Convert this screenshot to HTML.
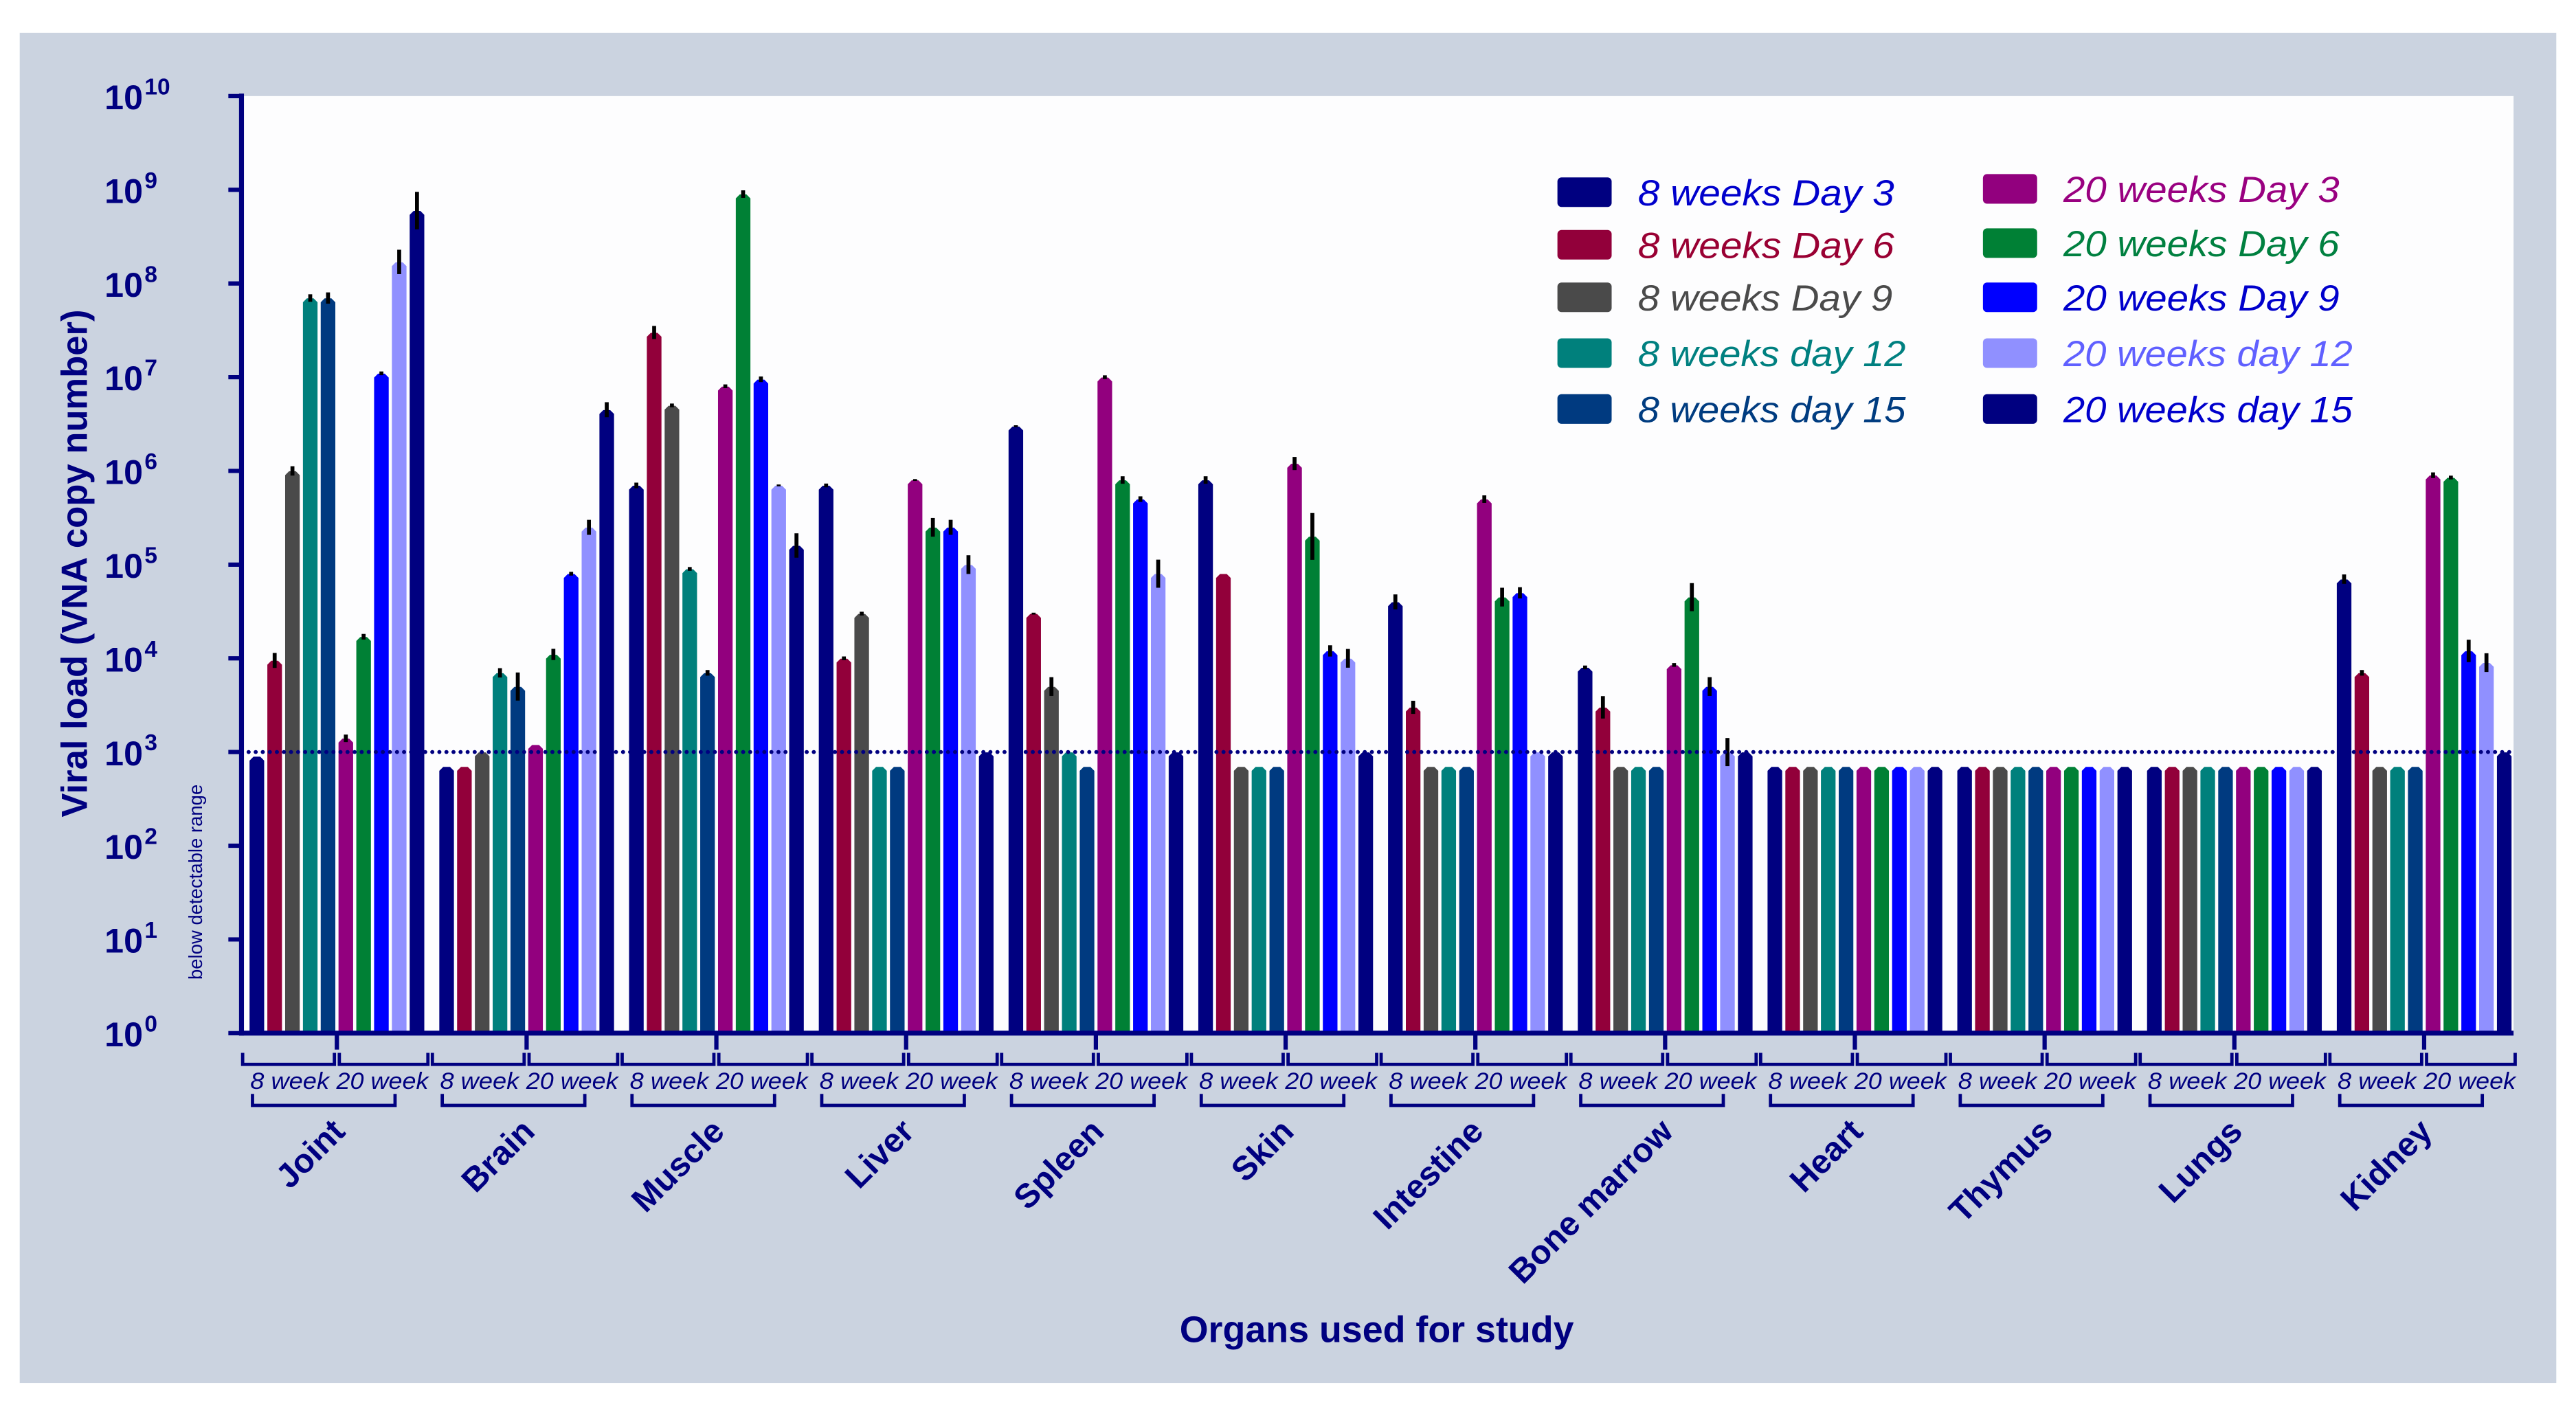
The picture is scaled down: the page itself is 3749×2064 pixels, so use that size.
<!DOCTYPE html>
<html><head><meta charset="utf-8"><style>
html,body{margin:0;padding:0;background:#fff;}
svg{display:block;}
text{font-family:"Liberation Sans",Arial,sans-serif;}
</style></head><body>
<svg id="chart" width="3749" height="2064" viewBox="0 0 1568 863.3" preserveAspectRatio="none" xmlns="http://www.w3.org/2000/svg">
<rect x="12" y="20" width="1544" height="822" fill="#cbd3e0"/>
<rect x="147" y="58.5" width="1383" height="570.5" fill="#fdfdfe"/>
<g id="bars"></g>
<g id="axes"></g>
<g id="legend"></g>
<text transform="translate(53,343) rotate(-90)" text-anchor="middle" font-size="22" font-weight="bold" fill="#000080">Viral load (VNA copy number)</text>
<text transform="translate(123,537) rotate(-90)" text-anchor="middle" font-size="11.5" fill="#000080">below detectable range</text>
<text x="838" y="817" text-anchor="middle" font-size="22.5" font-weight="bold" fill="#000080">Organs used for study</text>
</svg>
<script>
const organs = ["Joint","Brain","Muscle","Liver","Spleen","Skin","Intestine","Bone marrow","Heart","Thymus","Lungs","Kidney"];
const seriesNames = ["8 weeks Day 3","8 weeks Day 6","8 weeks Day 9","8 weeks day 12","8 weeks day 15","20 weeks Day 3","20 weeks Day 6","20 weeks Day 9","20 weeks day 12","20 weeks day 15"];
const values = [
 [900,9500,1e6,7e7,7e7,1400,1.7e4,1.1e7,1.7e8,6e8],
 [700,700,1000,7000,5000,1200,1.1e4,8e4,2.5e5,4.5e6],
 [7e5,3e7,5e6,9e4,7000,8e6,9e8,9.5e6,7e5,1.6e5],
 [7e5,1e4,3e4,700,700,8e5,2.5e5,2.5e5,1e5,1000],
 [3e6,3e4,5000,1000,700,1e7,8e5,5e5,8e4,1000],
 [8e5,8e4,700,700,700,1.2e6,2e5,1.2e4,1e4,1000],
 [4e4,3000,700,700,700,5e5,4.5e4,5e4,1000,1000],
 [8000,3000,700,700,700,8500,4.5e4,5000,1000,1000],
 [700,700,700,700,700,700,700,700,700,700],
 [700,700,700,700,700,700,700,700,700,700],
 [700,700,700,700,700,700,700,700,700,700],
 [7e4,7000,700,700,700,9e5,8.5e5,1.2e4,9000,1000]
];
const errLog = [
 [0,0.08,0.05,0.04,0.06,0.04,0.03,0.02,0.13,0.2],
 [0,0,0,0.05,0.15,0,0.06,0.02,0.08,0.08],
 [0.03,0.07,0.02,0.02,0.03,0.02,0.04,0.03,0.01,0.13],
 [0.02,0.02,0.02,0,0,0.01,0.1,0.08,0.1,0],
 [0.01,0.01,0.1,0,0,0.02,0.04,0.03,0.15,0],
 [0.04,0,0,0,0,0.07,0.25,0.06,0.1,0],
 [0.08,0.07,0,0,0,0.04,0.1,0.06,0,0],
 [0.02,0.12,0,0,0,0.02,0.15,0.1,0.15,0],
 [0,0,0,0,0,0,0,0,0,0],
 [0,0,0,0,0,0,0,0,0,0],
 [0,0,0,0,0,0,0,0,0,0],
 [0.05,0.03,0,0,0,0.03,0.02,0.12,0.1,0]
];
const yTickExps = [0,1,2,3,4,5,6,7,8,9,10];
const detectionLimit = 1000;
const barColors = ["#000080","#92003a","#4a4a4a","#00807c","#003a80","#92007e","#008035","#0000ff","#9090ff","#000080"];
const legendColors = ["#0000cc","#990033","#4a4a4a","#008080","#003c80","#990080","#008040","#0000cc","#6060ff","#0000cc"];

const NS="http://www.w3.org/2000/svg";
const X0=147, Y0=629, DEC=57.05, GP=115.5, BP=10.83, BW=9.3, FIRST=151.7;
function y(v){return Y0-Math.log10(v)*DEC;}
function xBar(g,i){return FIRST+g*GP+i*BP;}
function groupCenter(g){return xBar(g,5)-0.8;}
function mk(tag,attrs,parent){const e=document.createElementNS(NS,tag);for(const k in attrs)e.setAttribute(k,attrs[k]);parent.appendChild(e);return e;}

const bars=document.getElementById('bars');
organs.forEach((o,g)=>{
  values[g].forEach((v,i)=>{
    const x=xBar(g,i), top=y(v), h=Y0-top, c=Math.min(2.5,h/2);
    const p=mk('path',{d:`M${x},${Y0} L${x},${top+c} L${x+c},${top} L${x+BW-c},${top} L${x+BW},${top+c} L${x+BW},${Y0} Z`,fill:barColors[i],stroke:'#ffffff','stroke-width':0.4},bars);
    
    
    const e=errLog[g][i];
    if(e>0){
      const lv=Math.log10(v);
      const l=mk('line',{x1:x+BW/2,x2:x+BW/2,y1:Y0-(lv+e)*DEC,y2:Y0-(lv-e)*DEC,stroke:'#000','stroke-width':2.4},bars);
      
      
    }
  });
});
const dl=mk('line',{x1:X0,x2:1530,y1:y(detectionLimit),y2:y(detectionLimit),stroke:'#000080','stroke-width':2.4,'stroke-dasharray':'0.1 4.2','stroke-linecap':'round'},bars);



const axes=document.getElementById('axes');
const C='#000080';
let a=mk('line',{x1:X0,x2:X0,y1:57,y2:Y0+1.5,stroke:C,'stroke-width':3},axes);


a=mk('line',{x1:X0-1.5,x2:1530,y1:Y0,y2:Y0,stroke:C,'stroke-width':3},axes);


yTickExps.forEach(ex=>{
  const yy=Y0-ex*DEC;
  const t=mk('line',{x1:139,x2:X0,y1:yy,y2:yy,stroke:C,'stroke-width':2.6},axes);
  
  
  const tx=mk('text',{x:87,y:yy+8,'text-anchor':'end','font-size':21,'font-weight':'bold',fill:C},axes);
  tx.textContent='10';
  
  
  const sp=mk('text',{x:88,y:yy-1,'font-size':14,'font-weight':'bold',fill:C},axes);
  sp.textContent=String(ex);
  
  
});
organs.forEach((o,g)=>{
  const cx=groupCenter(g), l=xBar(g,0)-4, r=xBar(g,9)+BW+2;
  const t=mk('line',{x1:cx,x2:cx,y1:Y0,y2:Y0+10,stroke:C,'stroke-width':2.6},axes);
  
  
  const b1=mk('path',{d:`M${l},${Y0+12} V${Y0+19} H${cx-1.5} V${Y0+12}`,fill:'none',stroke:C,'stroke-width':2},axes);
  
  
  const b2=mk('path',{d:`M${cx+1.5},${Y0+12} V${Y0+19} H${r} V${Y0+12}`,fill:'none',stroke:C,'stroke-width':2},axes);
  
  
  const t1=mk('text',{x:(l+cx)/2,y:Y0+34,'text-anchor':'middle','font-size':14.5,'font-style':'italic',fill:C,textLength:48,lengthAdjust:'spacingAndGlyphs'},axes);
  t1.textContent='8 week';
  
  
  const t2=mk('text',{x:(cx+r)/2,y:Y0+34,'text-anchor':'middle','font-size':14.5,'font-style':'italic',fill:C,textLength:56,lengthAdjust:'spacingAndGlyphs'},axes);
  t2.textContent='20 week';
  
  
  const b3=mk('path',{d:`M${l+6},${Y0+37} V${Y0+44} H${r-20} V${Y0+37}`,fill:'none',stroke:C,'stroke-width':2},axes);
  
  
  const ol=mk('text',{transform:`translate(${cx+6},${Y0+61}) rotate(-45)`,'text-anchor':'end','font-size':20.5,'font-weight':'bold',fill:C},axes);
  ol.textContent=o;
  
  
});

const legend=document.getElementById('legend');
const legX=[948,1207], legTX=[997,1256];
const legY=[[117,149,181,215,249],[115,148,181,215,249]];
const legW=[[156,156,155,163,163],[168,168,168,176,176]];
seriesNames.forEach((n,i)=>{
  const col=i<5?0:1, row=i%5, yy=legY[col][row];
  const sw=mk('rect',{x:legX[col],y:yy-9,width:33,height:18,rx:2.5,fill:barColors[i]},legend);
  
  
  const t=mk('text',{x:legTX[col],y:yy+8,'font-size':22,'font-style':'italic',fill:legendColors[i],textLength:legW[col][row],lengthAdjust:'spacingAndGlyphs'},legend);
  t.textContent=n;
  
  
});
</script>
</body></html>
